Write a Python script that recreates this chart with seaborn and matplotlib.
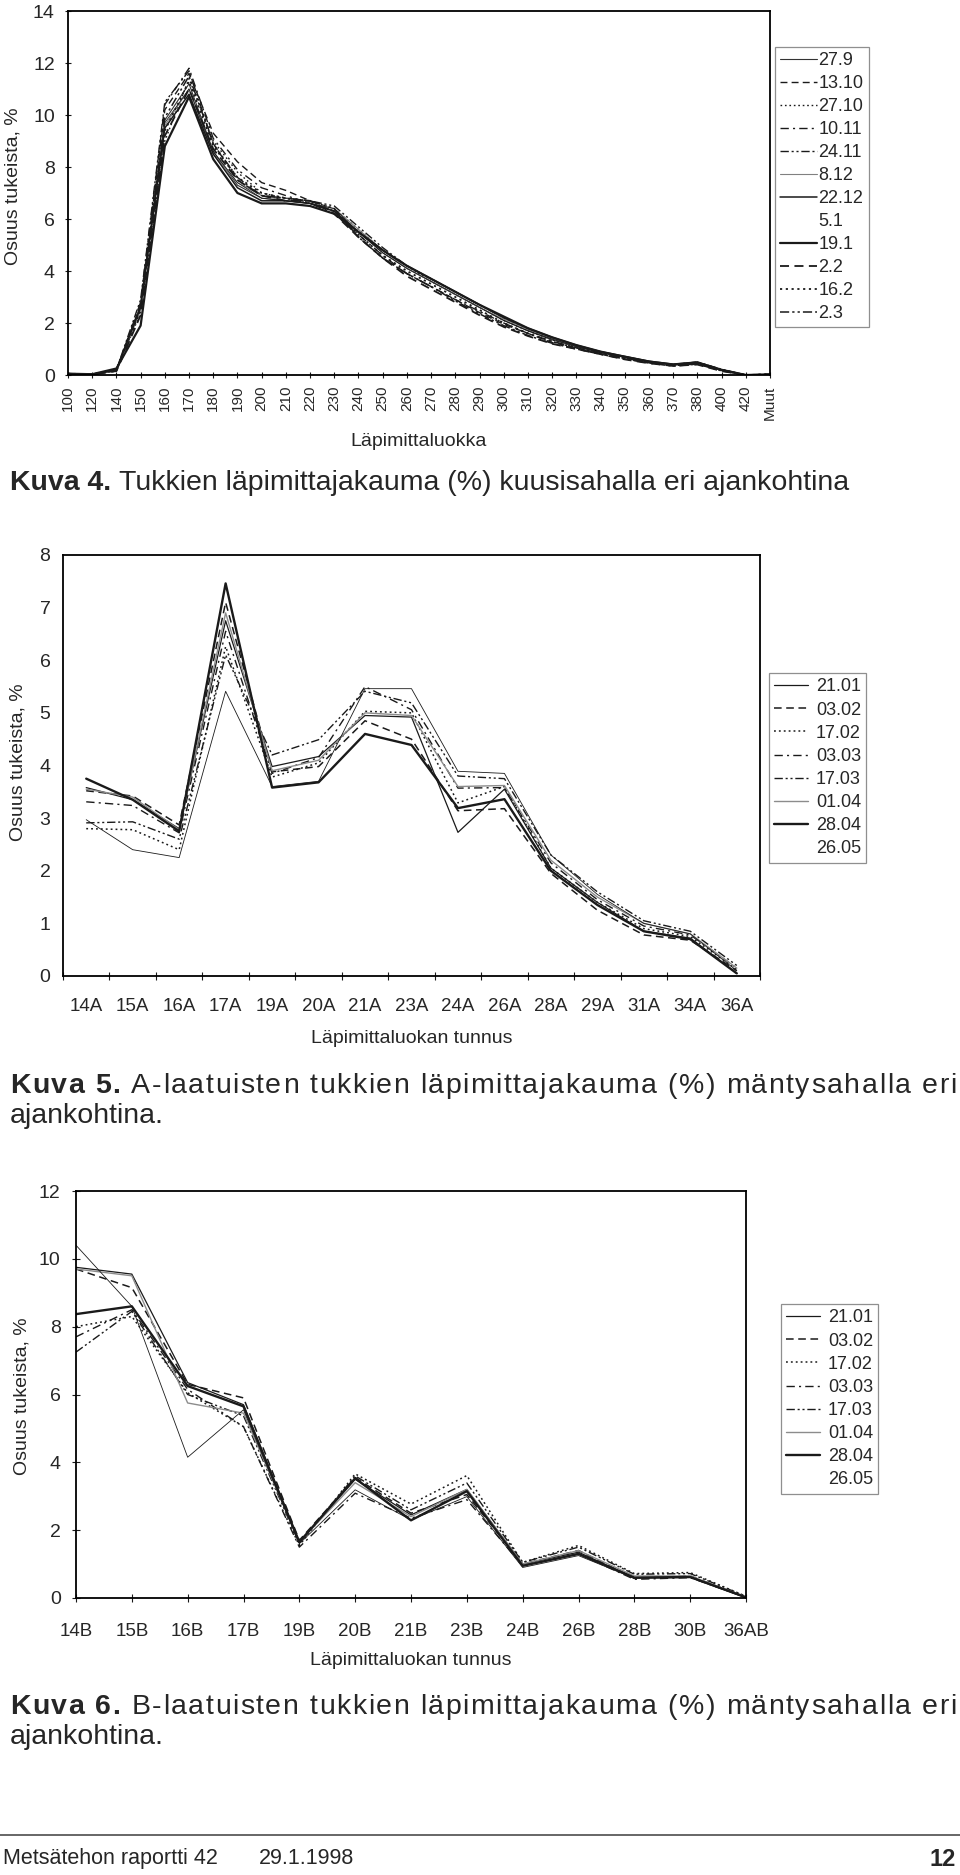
import numpy as np
import matplotlib
matplotlib.use("Agg")
import matplotlib.pyplot as plt
from matplotlib.lines import Line2D
from matplotlib.font_manager import FontProperties
import seaborn as sns

sns.set_theme(style="white")
plt.rcParams["font.family"] = ["Liberation Sans", "DejaVu Sans"]

# ── DATA: Kuva 4 (kuusisaha)
k4_cats = ["100", "120", "140", "150", "160", "170", "180", "190", "200", "210",
           "220", "230", "240", "250", "260", "270", "280", "290", "300", "310",
           "320", "330", "340", "350", "360", "370", "380", "400", "420", "Muut"]
k4_27_9  = [0.05, 0.02, 0.15, 2.6, 9.8, 11.2, 8.6, 7.3, 6.8, 6.7, 6.6, 6.3, 5.5, 4.7, 4.1, 3.6, 3.1, 2.6, 2.1, 1.7, 1.35, 1.1, 0.85, 0.7, 0.5, 0.4, 0.45, 0.18, 0.0, 0.02]
k4_13_10 = [0.05, 0.03, 0.2, 2.7, 10.2, 11.6, 9.3, 8.2, 7.4, 7.1, 6.7, 6.3, 5.3, 4.5, 3.9, 3.4, 2.9, 2.4, 1.95, 1.6, 1.25, 1.05, 0.8, 0.62, 0.47, 0.36, 0.42, 0.17, 0.0, 0.03]
k4_27_10 = [0.04, 0.03, 0.15, 2.4, 9.0, 11.4, 9.0, 7.8, 7.0, 6.8, 6.7, 6.4, 5.6, 4.8, 4.2, 3.6, 3.1, 2.6, 2.1, 1.7, 1.35, 1.1, 0.85, 0.68, 0.5, 0.38, 0.48, 0.2, 0.0, 0.02]
k4_10_11 = [0.05, 0.02, 0.18, 2.8, 10.4, 11.8, 9.1, 7.9, 7.2, 6.9, 6.6, 6.2, 5.4, 4.6, 3.9, 3.4, 2.9, 2.45, 2.0, 1.6, 1.3, 1.05, 0.82, 0.65, 0.48, 0.37, 0.45, 0.2, 0.0, 0.02]
k4_24_11 = [0.05, 0.03, 0.2, 2.9, 10.5, 11.7, 8.9, 7.6, 6.9, 6.8, 6.7, 6.5, 5.7, 4.9, 4.2, 3.7, 3.2, 2.7, 2.2, 1.75, 1.4, 1.12, 0.88, 0.7, 0.52, 0.4, 0.5, 0.22, 0.0, 0.03]
k4_8_12  = [0.05, 0.02, 0.15, 2.5, 9.6, 11.0, 8.5, 7.4, 6.9, 6.7, 6.6, 6.4, 5.6, 4.8, 4.1, 3.6, 3.1, 2.6, 2.15, 1.75, 1.4, 1.12, 0.9, 0.7, 0.52, 0.4, 0.48, 0.2, 0.0, 0.02]
k4_22_12 = [0.05, 0.03, 0.2, 2.6, 9.5, 10.8, 8.5, 7.2, 6.7, 6.7, 6.6, 6.3, 5.5, 4.8, 4.2, 3.7, 3.2, 2.7, 2.2, 1.8, 1.45, 1.15, 0.9, 0.72, 0.53, 0.42, 0.5, 0.2, 0.0, 0.02]
k4_5_1   = [0.05, 0.02, 0.18, 2.7, 9.7, 11.0, 8.6, 7.4, 6.8, 6.7, 6.6, 6.4, 5.5, 4.7, 4.1, 3.6, 3.1, 2.6, 2.1, 1.7, 1.38, 1.1, 0.87, 0.68, 0.5, 0.4, 0.46, 0.18, 0.0, 0.02]
k4_19_1  = [0.05, 0.03, 0.25, 1.9, 8.8, 10.7, 8.3, 7.0, 6.6, 6.6, 6.5, 6.2, 5.5, 4.8, 4.2, 3.7, 3.2, 2.7, 2.25, 1.8, 1.45, 1.15, 0.9, 0.7, 0.52, 0.4, 0.48, 0.2, 0.0, 0.02]
k4_2_2   = [0.05, 0.02, 0.15, 2.3, 9.2, 11.0, 8.7, 7.5, 6.9, 6.7, 6.7, 6.2, 5.3, 4.5, 3.8, 3.3, 2.8, 2.3, 1.85, 1.5, 1.2, 1.0, 0.8, 0.6, 0.45, 0.35, 0.4, 0.15, 0.0, 0.02]
k4_16_2  = [0.05, 0.03, 0.18, 2.5, 9.4, 11.3, 8.8, 7.6, 7.0, 6.8, 6.6, 6.3, 5.4, 4.6, 4.0, 3.5, 3.0, 2.5, 2.0, 1.6, 1.28, 1.05, 0.83, 0.64, 0.48, 0.37, 0.44, 0.18, 0.0, 0.02]
k4_2_3   = [0.05, 0.02, 0.2, 2.6, 9.9, 11.5, 8.9, 7.5, 6.9, 6.8, 6.7, 6.4, 5.3, 4.5, 3.9, 3.4, 2.85, 2.35, 1.9, 1.52, 1.22, 1.0, 0.8, 0.62, 0.46, 0.34, 0.42, 0.16, 0.0, 0.03]

# ── DATA: Kuva 5 (A-laatu)
k5_cats = ["14A", "15A", "16A", "17A", "19A", "20A", "21A", "23A", "24A", "26A",
           "28A", "29A", "31A", "34A", "36A"]
k5_21_01 = [3.58, 3.35, 2.8, 6.75, 3.98, 4.17, 4.95, 4.92, 2.73, 3.55, 2.05, 1.4, 0.85, 0.72, 0.05]
k5_03_02 = [3.52, 3.42, 2.87, 7.1, 3.88, 3.98, 4.85, 4.5, 3.14, 3.18, 1.95, 1.25, 0.78, 0.68, 0.1]
k5_17_02 = [2.8, 2.78, 2.4, 6.26, 3.78, 4.05, 5.03, 5.0, 3.29, 3.6, 2.05, 1.4, 0.9, 0.75, 0.12]
k5_03_03 = [3.31, 3.24, 2.72, 6.55, 3.85, 4.15, 5.5, 5.06, 3.57, 3.58, 2.15, 1.45, 0.95, 0.78, 0.15]
k5_17_03 = [2.91, 2.93, 2.6, 6.1, 4.2, 4.49, 5.41, 5.19, 3.8, 3.75, 2.3, 1.6, 1.05, 0.85, 0.2]
k5_01_04 = [3.55, 3.4, 2.78, 6.9, 3.9, 4.1, 5.0, 4.95, 3.6, 3.62, 2.2, 1.5, 1.0, 0.8, 0.15]
k5_28_04 = [3.75, 3.35, 2.75, 7.46, 3.58, 3.68, 4.6, 4.39, 3.19, 3.36, 2.0, 1.35, 0.85, 0.7, 0.05]
k5_26_05 = [2.97, 2.4, 2.25, 5.41, 3.6, 3.7, 5.46, 5.46, 3.89, 3.85, 2.3, 1.55, 1.0, 0.8, 0.1]

# ── DATA: Kuva 6 (B-laatu)
k6_cats = ["14B", "15B", "16B", "17B", "19B", "20B", "21B", "23B", "24B", "26B",
           "28B", "30B", "36AB"]
k6_21_01 = [9.75, 9.55, 6.35, 5.7, 1.65, 3.5, 2.45, 3.2, 1.0, 1.35, 0.6, 0.62, 0.02]
k6_03_02 = [9.7, 9.15, 6.3, 5.9, 1.7, 3.55, 2.5, 3.05, 1.0, 1.4, 0.58, 0.65, 0.02]
k6_17_02 = [8.0, 8.3, 6.05, 5.05, 1.55, 3.66, 2.77, 3.61, 1.05, 1.55, 0.72, 0.75, 0.05]
k6_03_03 = [7.7, 8.5, 6.15, 5.05, 1.5, 3.09, 2.35, 2.9, 0.95, 1.3, 0.55, 0.6, 0.02]
k6_17_03 = [7.25, 8.45, 6.0, 5.37, 1.6, 3.6, 2.6, 3.39, 1.05, 1.5, 0.7, 0.72, 0.05]
k6_01_04 = [9.7, 9.5, 5.75, 5.45, 1.65, 3.4, 2.4, 3.2, 1.0, 1.4, 0.65, 0.65, 0.03]
k6_28_04 = [8.37, 8.6, 6.25, 5.65, 1.65, 3.53, 2.29, 3.15, 0.95, 1.3, 0.6, 0.62, 0.02]
k6_26_05 = [10.4, 8.6, 4.15, 5.55, 1.6, 3.19, 2.3, 2.99, 0.9, 1.25, 0.58, 0.6, 0.0]

k4_series = [("27.9", k4_27_9), ("13.10", k4_13_10), ("27.10", k4_27_10), ("10.11", k4_10_11),
             ("24.11", k4_24_11), ("8.12", k4_8_12), ("22.12", k4_22_12), ("5.1", k4_5_1),
             ("19.1", k4_19_1), ("2.2", k4_2_2), ("16.2", k4_16_2), ("2.3", k4_2_3)]
k5_series = [("21.01", k5_21_01), ("03.02", k5_03_02), ("17.02", k5_17_02), ("03.03", k5_03_03),
             ("17.03", k5_17_03), ("01.04", k5_01_04), ("28.04", k5_28_04), ("26.05", k5_26_05)]
k6_series = [("21.01", k6_21_01), ("03.02", k6_03_02), ("17.02", k6_17_02), ("03.03", k6_03_03),
             ("17.03", k6_17_03), ("01.04", k6_01_04), ("28.04", k6_28_04), ("26.05", k6_26_05)]

# ── line styles (one per legend slot)
DASH = (0, (5, 3))
DOT = (0, (1.2, 2))
DASHDOT = (0, (6, 3, 1.5, 3))
DASHDOT2 = (0, (6, 2, 1.5, 2, 1.5, 2))
k4_styles = [("-", 0.8, "0.2"), (DASH, 1.0, "k"), (DOT, 1.0, "k"), (DASHDOT, 1.0, "k"),
             (DASHDOT2, 1.0, "k"), ("-", 0.8, "0.5"), ("-", 1.1, "k"), ("-", 0.6, "k"),
             ("-", 1.6, "k"), (DASH, 1.3, "k"), (DOT, 1.3, "k"), (DASHDOT2, 1.1, "k")]
k56_styles = [("-", 0.9, "k"), (DASH, 1.1, "k"), (DOT, 1.1, "k"), (DASHDOT, 1.0, "k"),
              (DASHDOT2, 1.0, "k"), ("-", 1.0, "0.55"), ("-", 1.7, "k"), ("-", 0.6, "k")]

W, H = 960, 1875
CAP = 20.5
fig = plt.figure(figsize=(W / 100, H / 100), dpi=100)
fig.patch.set_facecolor("white")


def box(l, t, r, b):
    return [l / W, 1 - b / H, (r - l) / W, (b - t) / H]


def draw(ax, cats, series, styles):
    for (name, vals), (ls, lw, col) in zip(series, styles):
        sns.lineplot(x=cats, y=vals, ax=ax, label=name, color=col, linewidth=lw,
                     linestyle=ls, sort=False, errorbar=None)


def frame(ax):
    for s in ax.spines.values():
        s.set_visible(True); s.set_color("black"); s.set_linewidth(1.3)
    ax.set_facecolor("white")


def legend(ax, left, top, hidden, hl, htp, ls):
    leg = ax.legend(loc="upper left", bbox_to_anchor=(left / W, 1 - top / H),
                    bbox_transform=fig.transFigure, borderaxespad=0, fontsize=13,
                    handlelength=hl, handletextpad=htp, labelspacing=ls,
                    borderpad=0.3, frameon=True, fancybox=False)
    leg.get_frame().set_edgecolor("0.45"); leg.get_frame().set_linewidth(0.9)
    leg.legend_handles[hidden].set_visible(False)


R = fig.canvas.get_renderer()
FP_B = FontProperties(family=["Liberation Sans"], weight="bold", size=CAP)
FP_R = FontProperties(family=["Liberation Sans"], size=CAP)


def tw(s, fp):
    return R.get_text_width_height_descent(s, fp, ismath=False)[0]


def spread(items, y, x0, right):
    # items: (string, fontprops) segments, letter-spaced to fill x0..right
    glyphs, off = [], 0.0
    for s, fp in items:
        for i, c in enumerate(s):
            if c != " ":
                glyphs.append((c, fp, off + tw(s[:i + 1], fp) - tw(c, fp)))
        off += tw(s, fp) + tw("a a", fp) - tw("aa", fp)
    n = sum(len(s) for s, _ in items) + len(items) - 1
    last_c, last_fp, last_x = glyphs[-1]
    extra = (right - x0 - last_x - tw(last_c, last_fp)) / (n - 1)
    idx = 0
    for s, fp in items:
        for c in s:
            if c != " ":
                g = glyphs.pop(0)
                fig.text((x0 + g[2] + idx * extra) / W, y, c, fontproperties=fp, va="baseline")
            idx += 1
        idx += 1


def caption(base_y, label, text, line2=None, right=None):
    y = 1 - base_y / H
    if right is None:
        t = fig.text(10 / W, y, label, fontproperties=FP_B, va="baseline")
        x = 10 + t.get_window_extent(R).width + 8
        fig.text(x / W, y, text, fontproperties=FP_R, va="baseline")
    else:
        spread([(label, FP_B), (text, FP_R)], y, 10, right)
    if line2:
        fig.text(10 / W, 1 - (base_y + 30) / H, line2, fontproperties=FP_R, va="baseline")


# ── Kuva 4
ax1 = fig.add_axes(box(68, 11, 770, 375))
draw(ax1, k4_cats, k4_series, k4_styles)
frame(ax1)
ax1.set_xlim(0, len(k4_cats) - 1); ax1.set_ylim(0, 14); ax1.set_yticks(range(0, 15, 2))
ax1.tick_params(direction="inout", length=5, width=0.8, color="k", bottom=True, left=True)
ax1.tick_params(axis="x", labelrotation=90, labelsize=11, pad=5)
ax1.tick_params(axis="y", labelsize=14, pad=7)
ax1.set_xlabel("Läpimittaluokka", fontsize=14)
ax1.xaxis.set_label_coords(0.5, -0.16)
ax1.set_ylabel("Osuus tukeista, %", fontsize=14)
ax1.yaxis.set_label_coords(-0.066, 0.52)
legend(ax1, 775, 47, 7, 2.0, 0.1, 0.33)

# ── Kuva 5
ax2 = fig.add_axes(box(63, 555, 760, 976))
draw(ax2, k5_cats, k5_series, k56_styles)
frame(ax2)
ax2.set_xlim(-0.5, len(k5_cats) - 0.5); ax2.set_ylim(0, 8); ax2.set_yticks(range(0, 9))
ax2.set_xticks(np.arange(-0.5, len(k5_cats)), minor=True)
ax2.tick_params(axis="x", which="major", length=0, labelsize=13.5, pad=16)
ax2.tick_params(axis="x", which="minor", direction="inout", length=6, width=0.8, color="k", bottom=True)
ax2.tick_params(axis="y", length=0, labelsize=14, pad=9)
ax2.set_xlabel("Läpimittaluokan tunnus", fontsize=14)
ax2.xaxis.set_label_coords(0.5, -0.128)
ax2.set_ylabel("Osuus tukeista, %", fontsize=14)
ax2.yaxis.set_label_coords(-0.052, 0.508)
legend(ax2, 769, 673, 7, 1.85, 0.45, 0.34)

# ── Kuva 6
ax3 = fig.add_axes(box(76, 1191, 746, 1598))
draw(ax3, k6_cats, k6_series, k56_styles)
frame(ax3)
ax3.set_xlim(0, len(k6_cats) - 1); ax3.set_ylim(0, 12); ax3.set_yticks(range(0, 13, 2))
ax3.tick_params(direction="inout", length=6, width=0.8, color="k", bottom=True, left=True)
ax3.tick_params(axis="x", labelsize=13.5, pad=15)
ax3.tick_params(axis="y", labelsize=14, pad=8)
ax3.set_xlabel("Läpimittaluokan tunnus", fontsize=14)
ax3.xaxis.set_label_coords(0.5, -0.133)
ax3.set_ylabel("Osuus tukeista, %", fontsize=14)
ax3.yaxis.set_label_coords(-0.068, 0.496)
legend(ax3, 781, 1304, 7, 1.85, 0.45, 0.34)

# ── captions
caption(490, "Kuva 4.", "Tukkien läpimittajakauma (%) kuusisahalla eri ajankohtina")
caption(1093, "Kuva 5.", "A-laatuisten tukkien läpimittajakauma (%) mäntysahalla eri",
        line2="ajankohtina.", right=956)
caption(1714, "Kuva 6.", "B-laatuisten tukkien läpimittajakauma (%) mäntysahalla eri",
        line2="ajankohtina.", right=956)

# ── footer
fig.add_artist(Line2D([0, 1], [1 - 1835 / H] * 2, transform=fig.transFigure, color="0.3", lw=1.2))
fig.text(3 / W, 1 - 1864 / H, "Metsätehon raportti 42", fontsize=15.5, va="baseline")
fig.text(259 / W, 1 - 1864 / H, "29.1.1998", fontsize=15.5, va="baseline")
fig.text(956 / W, 1 - 1866 / H, "12", fontsize=17, fontweight="bold", va="baseline", ha="right")

fig.savefig("out.png", dpi=100, facecolor="white")
